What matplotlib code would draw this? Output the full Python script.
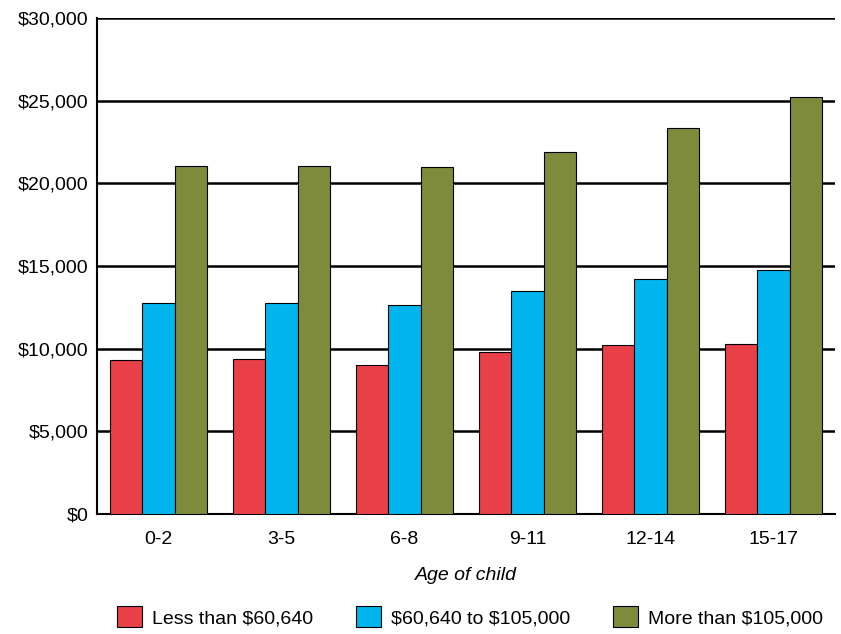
import matplotlib
matplotlib.use("Agg")
import matplotlib.pyplot as plt
import numpy as np
from matplotlib.ticker import FuncFormatter

plt.rcParams['font.family'] = ['Liberation Sans', 'DejaVu Sans']
plt.rcParams['text.parse_math'] = False

ages = ["0-2", "3-5", "6-8", "9-11", "12-14", "15-17"]
low = [9300, 9380, 9010, 9800, 10220, 10280]
mid = [12760, 12760, 12640, 13490, 14220, 14760]
high = [21050, 21050, 20990, 21900, 23350, 25230]
series = [("Less than $60,640", low, "#E84046"),
          ("$60,640 to $105,000", mid, "#00B5EE"),
          ("More than $105,000", high, "#7E8B3A")]

fig = plt.figure(figsize=(8.41, 6.34), dpi=100)
ax = fig.add_axes([97/841, 1-514/634, 738/841, 496/634])
x = np.arange(len(ages))
w = 0.265
for i, (lab, vals, c) in enumerate(series):
    ax.bar(x + (i-1)*w, vals, w, color=c, edgecolor="black", linewidth=0.8, label=lab, zorder=3)

ax.set_ylim(0, 30000)
ax.set_xlim(-0.5, len(ages)-0.5)
ax.set_yticks(range(0, 30001, 5000))
ax.yaxis.set_major_formatter(FuncFormatter(lambda v, p: f"${int(v):,}"))
ax.grid(axis="y", color="black", linewidth=1.8, zorder=0)
ax.set_xticks(x)
ax.set_xticklabels(ages)
ax.tick_params(axis="x", length=0, pad=12, labelsize=14)
ax.tick_params(axis="y", length=0, labelsize=14, pad=6)
for s in ["top", "right"]:
    ax.spines[s].set_visible(False)
ax.spines["left"].set_linewidth(1.5)
ax.spines["bottom"].set_linewidth(1.5)
ax.set_xlabel("Age of child", fontstyle="italic", fontsize=14, labelpad=14)
ax.legend(loc="upper center", bbox_to_anchor=(0.505, -0.15), ncol=3, frameon=False,
          fontsize=14, handlelength=1.3, handleheight=1.3, columnspacing=2.2, handletextpad=0.5)
fig.savefig("out.png", dpi=100)
